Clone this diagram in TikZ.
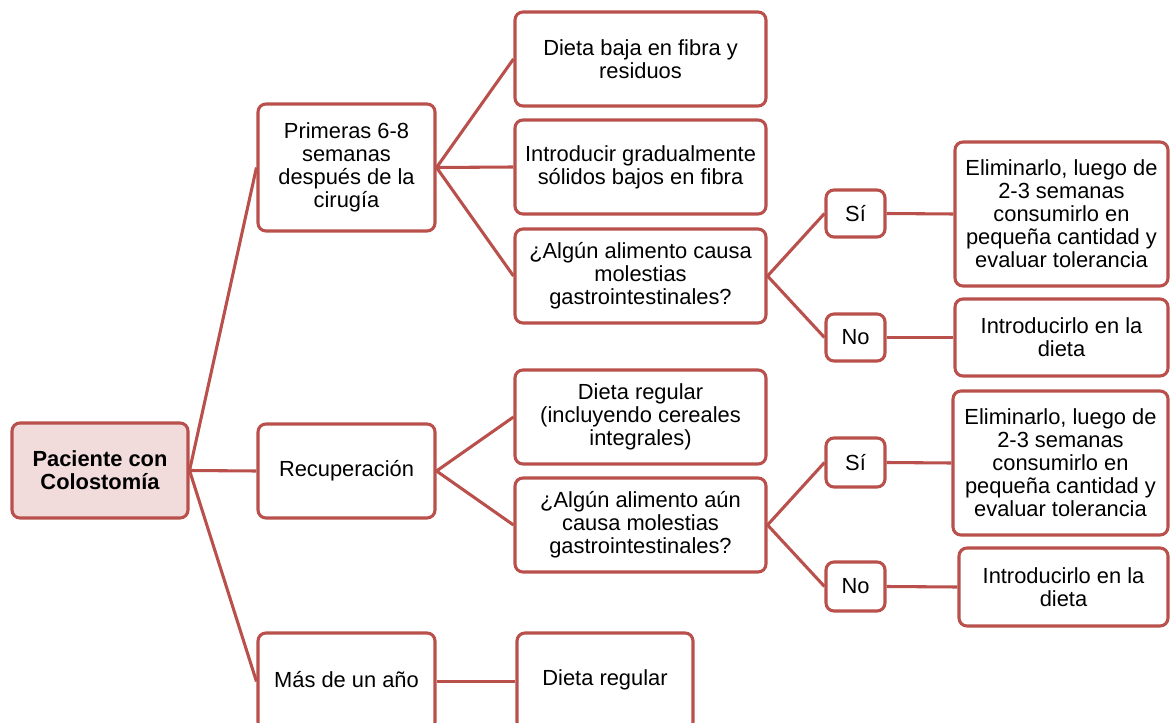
\documentclass[tikz,border=0pt]{standalone}
\usepackage{fontspec}
\setmainfont{Liberation Sans}
\definecolor{edge}{HTML}{B9504C}
\definecolor{rootfill}{HTML}{F2DCDB}
\begin{document}
\begin{tikzpicture}[x=0.75pt,y=-0.75pt,
  box/.style={draw=edge,line width=2.3pt,rounded corners=6pt,fill=white,align=center,
    font=\fontsize{16.4}{17.3}\selectfont,inner sep=1pt},
  rootbox/.style={box,fill=rootfill,font=\fontsize{16.4}{17.3}\selectfont\bfseries},
  label/.style={font=\fontsize{16.4}{17.3}\selectfont},
  link/.style={draw=edge,line width=2.3pt}]
\clip (0,0) rectangle (1170,723);
\fill[white] (0,0) rectangle (1170,723);
% root
\node[rootbox,minimum width=132pt,minimum height=71.25pt] (root) at (100,470.5) {Paciente con\\Colostomía};
% level 1
\node[box,minimum width=132.75pt,minimum height=95.25pt] (p1) at (346.5,167.5) {Primeras 6-8\\semanas\\después de la\\cirugía};
\node[box,minimum width=132.75pt,minimum height=70.5pt] (p2) at (346.5,471) {Recuperación};
\node[box,minimum width=132.75pt,minimum height=72.75pt] (p3) at (346.5,681.5) {};
\node[label] (p3t) at (346.5,680) {Más de un año};
% level 2
\node[box,minimum width=188.25pt,minimum height=70.5pt] (a1) at (640.5,59) {Dieta baja en fibra y\\residuos};
\node[box,minimum width=188.25pt,minimum height=70.5pt] (a2) at (640.5,167) {Introducir gradualmente\\sólidos bajos en fibra};
\node[box,minimum width=188.25pt,minimum height=70.5pt] (a3) at (640.5,276) {¿Algún alimento causa\\molestias\\gastrointestinales?};
\node[box,minimum width=188.25pt,minimum height=70.5pt] (b1) at (640.5,417) {Dieta regular\\(incluyendo cereales\\integrales)};
\node[box,minimum width=188.25pt,minimum height=70.5pt] (b2) at (640.5,525) {¿Algún alimento aún\\causa molestias\\gastrointestinales?};
\node[box,minimum width=132pt,minimum height=72.75pt] (c1) at (605,681.5) {};
\node[label] (c1t) at (605,680) {Dieta regular};
% yes/no
\node[box,minimum width=44.25pt,minimum height=35.25pt] (s1) at (855.5,213.5) {Sí};
\node[box,minimum width=44.25pt,minimum height=35.25pt] (n1) at (855.5,337.5) {No};
\node[box,minimum width=44.25pt,minimum height=36.75pt] (s2) at (855.5,462.5) {Sí};
\node[box,minimum width=44.25pt,minimum height=36.75pt] (n2) at (855.5,586.5) {No};
% outcomes
\node[box,minimum width=159.75pt,minimum height=108pt] (e1) at (1061.5,214) {Eliminarlo, luego de\\2-3 semanas\\consumirlo en\\pequeña cantidad y\\evaluar tolerancia};
\node[box,minimum width=159.75pt,minimum height=57.75pt] (i1) at (1061.5,337.5) {Introducirlo en la\\dieta};
\node[box,minimum width=161.25pt,minimum height=108pt] (e2) at (1060.5,463) {Eliminarlo, luego de\\2-3 semanas\\consumirlo en\\pequeña cantidad y\\evaluar tolerancia};
\node[box,minimum width=156.75pt,minimum height=58.5pt] (i2) at (1063.5,587) {Introducirlo en la\\dieta};
% connectors
\draw[link] (root.east) -- (p1.west);
\draw[link] (root.east) -- (p2.west);
\draw[link] (root.east) -- (p3.west);
\draw[link] (p1.east) -- (a1.west);
\draw[link] (p1.east) -- (a2.west);
\draw[link] (p1.east) -- (a3.west);
\draw[link] (p2.east) -- (b1.west);
\draw[link] (p2.east) -- (b2.west);
\draw[link] (p3.east) -- (c1.west);
\draw[link] (a3.east) -- (s1.west);
\draw[link] (a3.east) -- (n1.west);
\draw[link] (b2.east) -- (s2.west);
\draw[link] (b2.east) -- (n2.west);
\draw[link] (s1.east) -- (e1.west);
\draw[link] (n1.east) -- (i1.west);
\draw[link] (s2.east) -- (e2.west);
\draw[link] (n2.east) -- (i2.west);
\end{tikzpicture}
\end{document}
